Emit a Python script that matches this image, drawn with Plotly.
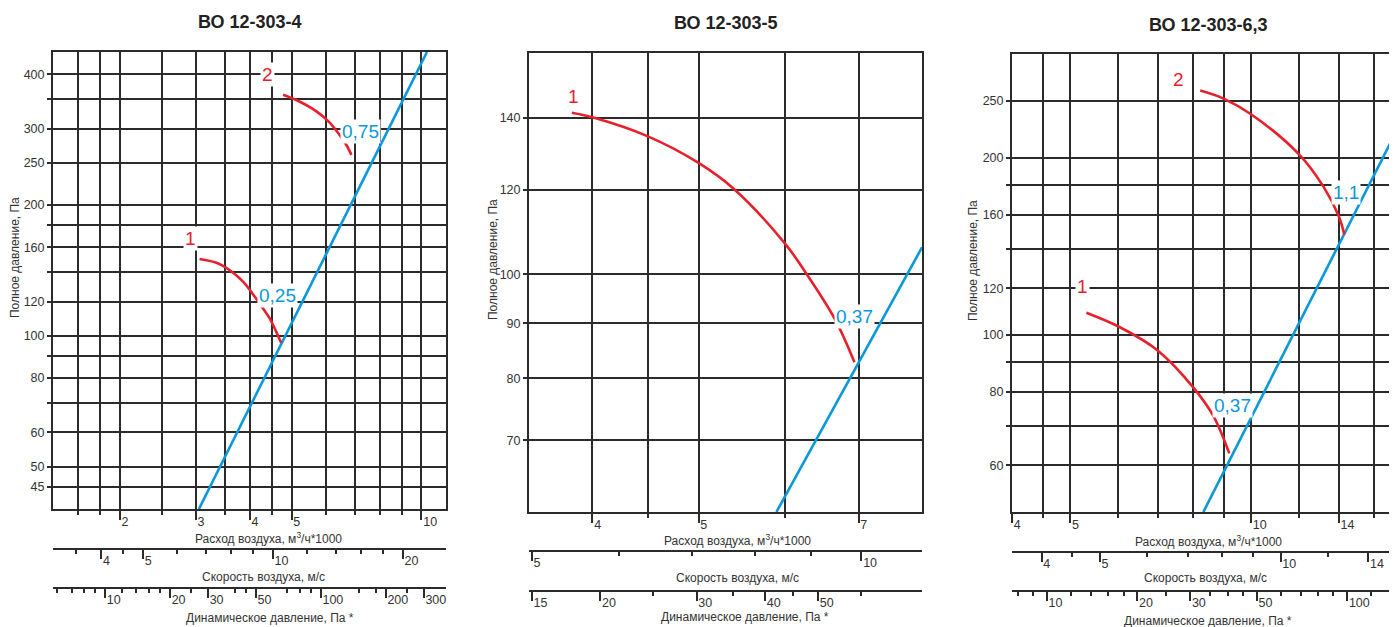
import math
import plotly.graph_objects as go

# ---------------- data ----------------
titles = ["ВО 12-303-4", "ВО 12-303-5", "ВО 12-303-6,3"]

# Panel 1 (ВО 12-303-4)
p1_curve1_flow = [3.06, 3.35, 3.59, 3.86, 4.11, 4.29, 4.45, 4.73]
p1_curve1_pres = [150.4, 147.4, 141.8, 133.3, 123.1, 115.8, 109.8, 96.5]
p1_curve2_flow = [4.78, 5.13, 5.70, 6.12, 6.46, 6.70, 6.88]
p1_curve2_pres = [359, 349, 329, 310, 290, 275, 261]
p1_system_flow = [3.05, 10.3]
p1_system_pres = [40, 450]

# Panel 2 (ВО 12-303-5)
p2_curve1_flow = [3.83, 4.0, 4.5, 5.0, 5.38, 6.0, 6.30, 6.67, 6.94]
p2_curve1_pres = [141.6, 140.2, 134.5, 127.1, 120.3, 106.8, 99.5, 90.6, 82.8]
p2_system_flow = [5.89, 8.0]
p2_system_pres = [60, 106]

# Panel 3 (ВО 12-303-6,3)
p3_curve1_flow = [5.32, 6.05, 7.0, 8.0, 8.65, 9.2]
p3_curve1_pres = [109, 103, 94, 81.6, 72.9, 62.9]
p3_curve2_flow = [8.23, 9.0, 10.0, 12.0, 13.2, 14.0, 14.3]
p3_curve2_pres = [260, 252, 237, 203, 178.6, 159, 148]
p3_system_flow = [8.33, 17.5]
p3_system_pres = [50, 223]

# axis ranges / ticks
flow_ranges = [[1.4, 11.4], [3.5, 8.0], [4.0, 17.5]]
pres_ranges = [[40, 450], [60, 161], [50, 300]]
flow_ticks = [[2, 3, 4, 5, 10], [4, 5, 7], [4, 5, 10, 14]]
flow_minor = [[1.6, 1.8, 2.5, 3.5, 4.5, 6, 7, 8, 9], [4.5, 6], [4.5, 6, 7, 8, 9, 12, 16]]
pres_ticks = [[45, 50, 60, 80, 100, 120, 160, 200, 250, 300, 400],
              [70, 80, 90, 100, 120, 140],
              [60, 80, 100, 120, 160, 200, 250]]
pres_minor = [[70, 90, 140, 180, 350], [], [70, 90, 140, 180]]

velocity_per_flow = [2.21, 1.42, 0.893]   # (м/с) per (1000 м3/ч)
dyn_pressure_coef = 0.6                   # Pd = 0.6 * v^2
vel_ticks = [[4, 5, 10, 20], [5, 10], [4, 5, 10, 14]]
vel_minor = [[3.5, 4.5, 6, 7, 8, 9, 12, 14, 16, 18], [6, 7, 8, 9], [4.5, 6, 7, 8, 9, 12]]
dyn_ticks = [[10, 20, 30, 50, 100, 200, 300], [15, 20, 30, 40, 50], [10, 20, 30, 50, 100]]
dyn_minor = [[6, 7, 8, 9, 12, 14, 16, 18, 25, 40, 45, 70, 80, 90, 150, 180, 250],
             [25, 35, 45, 60],
             [8, 9, 12, 14, 16, 18, 25, 35, 40, 45, 60, 70, 80, 90, 120]]

# curve labels: (text, flow, pressure, kind)
labels = [
    [("2", 4.40, 400, "red"), ("1", 2.92, 168, "red"), ("0,25", 4.64, 124, "blue"), ("0,75", 7.22, 296, "blue")],
    [("1", 3.84, 146.5, "red"), ("0,37", 6.94, 91.4, "blue")],
    [("2", 7.56, 271.5, "red"), ("1", 5.25, 120.6, "red"), ("1,1", 14.4, 174.6, "blue"), ("0,37", 9.3, 75.7, "blue")],
]

# ---------------- style ----------------
PAGE_OFFSET = 8            # default body margin of the html page
W, H = 1397 - PAGE_OFFSET, 627 - PAGE_OFFSET
RED = "#e8202b"
BLUE = "#0b98da"
INK = "#2b2b2b"
GRID = "#2b2b2b"
FONT = "Liberation Sans Narrow, Arial Narrow, Liberation Sans, Arial, sans-serif"

# pixel layout (screen pixels)
plot_px = [(53, 446, 52, 509), (529, 922, 53, 512), (1012, 1397, 54, 512)]
vel_line_y = [549, 551, 552]
dyn_line_y = [588, 591, 591]
ytitle_px = [(15, 258), (493, 260), (973, 261)]
title_px = [(250, 22), (726, 23), (1208, 25)]
xtitle_px = [[(268, 538), (263, 577), (270, 618)],
             [(737, 540), (738, 578), (745, 617)],
             [(1208, 541), (1205, 578), (1208, 621)]]

def px(x):
    return min(max((x - PAGE_OFFSET) / W, 0.0), 1.0)

def py(y):
    return min(max(1 - (y - PAGE_OFFSET) / H, 0.0), 1.0)

lg = math.log10

series = [
    [(p1_curve1_flow, p1_curve1_pres), (p1_curve2_flow, p1_curve2_pres)],
    [(p2_curve1_flow, p2_curve1_pres)],
    [(p3_curve1_flow, p3_curve1_pres), (p3_curve2_flow, p3_curve2_pres)],
]
systems = [(p1_system_flow, p1_system_pres), (p2_system_flow, p2_system_pres), (p3_system_flow, p3_system_pres)]

fig = go.Figure()
layout = dict(
    width=W, height=H, margin=dict(l=0, r=0, t=0, b=0),
    paper_bgcolor="white", plot_bgcolor="white", showlegend=False,
    font=dict(family=FONT, color="#333333", size=13),
)
annotations = []

tickfont = dict(family=FONT, size=12.5, color="#333333")

for i in range(3):
    n = i + 1
    xa = "x" if i == 0 else f"x{n}"
    ya = "y" if i == 0 else f"y{n}"
    xkey = "xaxis" if i == 0 else f"xaxis{n}"
    ykey = "yaxis" if i == 0 else f"yaxis{n}"
    x0, x1, yt, yb = plot_px[i]

    sf, sp = systems[i]
    fig.add_trace(go.Scatter(x=sf, y=sp, mode="lines", line=dict(color=BLUE, width=2.6),
                             xaxis=xa, yaxis=ya, hoverinfo="skip"))
    for f, p in series[i]:
        fig.add_trace(go.Scatter(x=f, y=p, mode="lines",
                                 line=dict(color=RED, width=2.6, shape="spline", smoothing=1.0),
                                 xaxis=xa, yaxis=ya, hoverinfo="skip"))

    fr = flow_ranges[i]
    layout[xkey] = dict(
        type="log", domain=[px(x0), px(x1)], anchor=ya,
        range=[lg(fr[0]), lg(fr[1])], autorange=False,
        tickmode="array", tickvals=flow_ticks[i], ticktext=[str(v) for v in flow_ticks[i]],
        ticks="outside", ticklen=9, tickwidth=1.5, tickcolor=INK,
        ticklabelposition="outside right", tickfont=tickfont,
        showgrid=True, gridcolor=GRID, gridwidth=1.6,
        minor=dict(tickmode="array", tickvals=flow_minor[i], ticks="outside", ticklen=4,
                   tickwidth=1.5, tickcolor=INK, showgrid=True, gridcolor=GRID, gridwidth=1.6),
        showline=True, linecolor=INK, linewidth=2, mirror=True, zeroline=False,
    )
    pr = pres_ranges[i]
    layout[ykey] = dict(
        type="log", domain=[py(yb), py(yt)], anchor=xa,
        range=[lg(pr[0]), lg(pr[1])], autorange=False,
        tickmode="array", tickvals=pres_ticks[i], ticktext=[str(v) for v in pres_ticks[i]],
        ticks="outside", ticklen=4, tickwidth=1.5, tickcolor=INK, tickfont=tickfont,
        showgrid=True, gridcolor=GRID, gridwidth=1.6,
        minor=dict(tickmode="array", tickvals=pres_minor[i], ticks="outside", ticklen=4,
                   tickwidth=1.5, tickcolor=INK, showgrid=True, gridcolor=GRID, gridwidth=1.6),
        showline=True, linecolor=INK, linewidth=2, mirror=(i < 2), zeroline=False,
    )

    # secondary scales: velocity and dynamic pressure
    k = velocity_per_flow[i]
    vr = [fr[0] * k, fr[1] * k]
    dr = [dyn_pressure_coef * vr[0] ** 2, dyn_pressure_coef * vr[1] ** 2]
    for j, (rng, tv, mv, ypos) in enumerate([
        (vr, vel_ticks[i], vel_minor[i], vel_line_y[i]),
        (dr, dyn_ticks[i], dyn_minor[i], dyn_line_y[i]),
    ]):
        m = 4 + i + 3 * j
        akey = f"xaxis{m}"
        fig.add_trace(go.Scatter(x=[None], y=[None], xaxis=f"x{m}", yaxis=ya,
                                 hoverinfo="skip", showlegend=False))
        layout[akey] = dict(
            type="log", overlaying=xa, anchor="free", position=py(ypos),
            range=[lg(rng[0]), lg(rng[1])], autorange=False,
            tickmode="array", tickvals=tv, ticktext=[str(v) for v in tv],
            ticks="outside", ticklen=9, tickwidth=1.5, tickcolor=INK,
            ticklabelposition="outside right", tickfont=tickfont,
            showgrid=False, zeroline=False,
            minor=dict(tickmode="array", tickvals=mv, ticks="outside", ticklen=4,
                       tickwidth=1.5, tickcolor=INK, showgrid=False),
            showline=True, linecolor=INK, linewidth=2,
        )

    tx, ty = title_px[i]
    annotations.append(dict(text=f"<b>{titles[i]}</b>", x=px(tx), y=py(ty), xref="paper", yref="paper",
                            showarrow=False, font=dict(family=FONT, size=18, color="#222222"),
                            xanchor="center", yanchor="middle"))
    yx, yy = ytitle_px[i]
    annotations.append(dict(text="Полное давление, Па", x=px(yx), y=py(yy), xref="paper", yref="paper",
                            showarrow=False, textangle=-90, font=dict(family=FONT, size=12, color="#333333"),
                            xanchor="center", yanchor="middle"))
    for (ax_x, ax_y), txt in zip(xtitle_px[i], ["Расход воздуха, м<sup>3</sup>/ч*1000",
                                                 "Скорость воздуха, м/с",
                                                 "Динамическое давление, Па *"]):
        annotations.append(dict(text=txt, x=px(ax_x), y=py(ax_y), xref="paper", yref="paper",
                                showarrow=False, font=dict(family=FONT, size=12, color="#333333"),
                                xanchor="center", yanchor="middle"))

    for txt, f, p, kind in labels[i]:
        annotations.append(dict(text=txt, x=lg(f), y=lg(p), xref=xa, yref=ya, showarrow=False,
                                font=dict(family=FONT, size=19, color=RED if kind == "red" else BLUE),
                                bgcolor="white", borderpad=1, xanchor="center", yanchor="middle"))

layout["annotations"] = annotations
fig.update_layout(**layout)
fig.write_html("out.html")
